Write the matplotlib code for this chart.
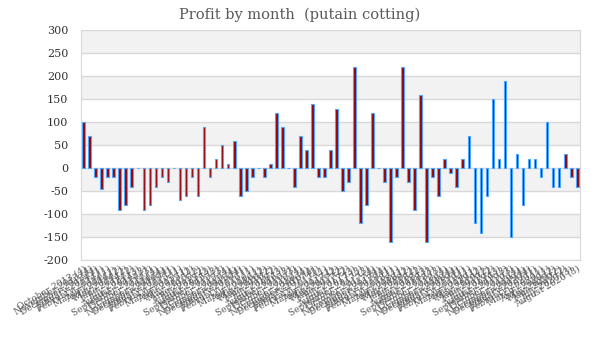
import matplotlib
matplotlib.use("Agg")
import matplotlib.pyplot as plt

# Profit per month
profit = [100, 70, -20, -45, -20, -20, -90, -80, -40, 0,
          -90, -80, -40, -20, -30, 0, -70, -60, -20, -60,
          90, -20, 20, 50, 10, 60, -60, -50, -20, 0,
          -20, 10, 120, 90, 0, -40, 70, 40, 140, -20,
          -20, 40, 130, -50, -30, 220, -120, -80, 120, 0,
          -30, -160, -20, 220, -30, -90, 160, -160, -20, -60,
          20, -10, -40, 20, 70, -120, -140, -60, 150, 20,
          190, -150, 30, -80, 20, 20, -20, 100, -40, -40,
          30, -20, -40]

month_names = ["January", "February", "March", "April", "May", "June", "July",
               "August", "September", "October", "November", "December"]
start_month, start_year = 9, 2013  # October 2013
labels = []
for i in range(len(profit)):
    m = (start_month + i) % 12
    y = start_year + (start_month + i) // 12
    labels.append(f"{month_names[m]} {y} ({m // 3 + 1})")

yticks = list(range(-200, 301, 50))
grey = "#595959"

fig = plt.figure(figsize=(6, 3.6), dpi=100)
ax = fig.add_axes([0.1345, 0.277, 0.8325, 0.6388])

# alternating bands
for lo in range(-150, 300, 100):
    ax.axhspan(lo, lo + 50, color="#f2f2f2", zorder=0, lw=0)
for t in yticks:
    ax.axhline(t, color="#d9d9d9", lw=1, zorder=1)

x = list(range(len(profit)))
ax.bar(x, profit, width=0.45, color="#a00000", edgecolor="#4da6ff",
       linewidth=0.8, zorder=3)

ax.set_xlim(-0.5, len(profit) - 0.5)
ax.set_ylim(-200, 300)
ax.set_yticks(yticks)
ax.set_yticklabels([str(t) for t in yticks], family="DejaVu Serif",
                   fontsize=8, color="#333333")
ax.set_xticks(x)
ax.set_xticklabels(labels, rotation=30, ha="right", rotation_mode="anchor",
                   family="DejaVu Serif", fontsize=6.5, color=grey)
ax.tick_params(axis="y", length=0, pad=9)
ax.tick_params(axis="x", length=0, pad=3)

for side in ["left", "right", "bottom", "top"]:
    ax.spines[side].set_color("#d9d9d9")
ax.spines["top"].set_visible(False)

fig.suptitle("Profit by month  (putain cotting)", x=0.5, y=0.98,
             family="DejaVu Serif", fontsize=10.5, color=grey)

fig.savefig("out.png", dpi=100)
